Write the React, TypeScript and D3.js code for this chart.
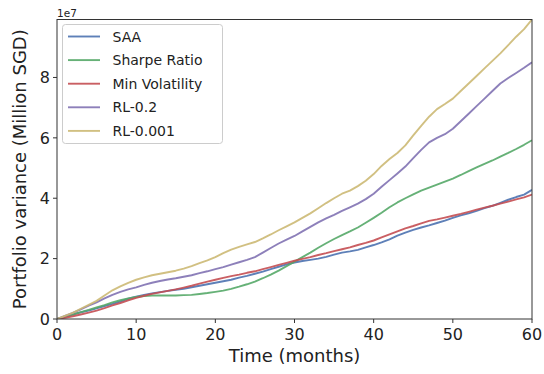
import * as d3 from "d3";

// months 0..60, values in units of 1e7 SGD
const months = d3.range(0, 61);

const saa = [0, 0.07, 0.15, 0.22, 0.28, 0.35, 0.43, 0.5, 0.58, 0.67, 0.74, 0.8, 0.85, 0.89, 0.93, 0.97, 1.0, 1.05, 1.1, 1.15, 1.2, 1.25, 1.3, 1.37, 1.43, 1.5, 1.57, 1.65, 1.73, 1.81, 1.87, 1.92, 1.96, 2.0, 2.06, 2.13, 2.2, 2.24, 2.29, 2.37, 2.45, 2.54, 2.64, 2.76, 2.86, 2.95, 3.03, 3.1, 3.18, 3.26, 3.35, 3.43, 3.5, 3.58, 3.67, 3.75, 3.85, 3.95, 4.04, 4.12, 4.28];
const sharpe = [0, 0.07, 0.15, 0.23, 0.3, 0.38, 0.46, 0.55, 0.62, 0.68, 0.73, 0.76, 0.78, 0.78, 0.78, 0.78, 0.79, 0.8, 0.83, 0.86, 0.9, 0.94, 1.0, 1.07, 1.15, 1.24, 1.35, 1.47, 1.6, 1.75, 1.9, 2.05, 2.2, 2.36, 2.51, 2.65, 2.78, 2.9, 3.03, 3.19, 3.35, 3.52, 3.7, 3.86, 4.0, 4.13, 4.25, 4.35, 4.45, 4.55, 4.65, 4.77, 4.9, 5.02, 5.14, 5.25, 5.38, 5.5, 5.63, 5.77, 5.92];
const minVol = [0, 0.04, 0.09, 0.15, 0.21, 0.28, 0.36, 0.45, 0.53, 0.62, 0.7, 0.77, 0.83, 0.88, 0.93, 0.98, 1.04, 1.1, 1.17, 1.24, 1.3, 1.36, 1.42, 1.47, 1.53, 1.58, 1.65, 1.72, 1.79, 1.86, 1.93, 1.99, 2.05, 2.12, 2.18, 2.25, 2.31, 2.37, 2.45, 2.52, 2.6, 2.7, 2.8, 2.9, 3.0, 3.08, 3.17, 3.25, 3.3, 3.36, 3.42, 3.48, 3.55, 3.62, 3.69, 3.75, 3.82, 3.89, 3.96, 4.03, 4.12];
const rl02 = [0, 0.1, 0.2, 0.32, 0.44, 0.55, 0.68, 0.8, 0.9, 0.98, 1.05, 1.13, 1.2, 1.26, 1.31, 1.35, 1.4, 1.45, 1.52, 1.58, 1.65, 1.72, 1.8, 1.88, 1.96, 2.05, 2.2, 2.35, 2.5, 2.63, 2.75, 2.9, 3.05, 3.2, 3.33, 3.45, 3.58, 3.7, 3.82, 3.97, 4.15, 4.38, 4.6, 4.82, 5.05, 5.33, 5.6, 5.85, 6.0, 6.12, 6.3, 6.55, 6.8, 7.05, 7.3, 7.55, 7.8, 7.98, 8.15, 8.32, 8.5];
const rl0001 = [0, 0.1, 0.2, 0.34, 0.47, 0.6, 0.78, 0.95, 1.08, 1.2, 1.3, 1.38, 1.45, 1.5, 1.55, 1.6, 1.67, 1.75, 1.85, 1.94, 2.05, 2.18, 2.3, 2.39, 2.47, 2.55, 2.67, 2.8, 2.94, 3.07, 3.2, 3.35, 3.5, 3.67, 3.84, 4.0, 4.15, 4.25, 4.4, 4.58, 4.8, 5.07, 5.3, 5.5, 5.75, 6.08, 6.4, 6.7, 6.95, 7.12, 7.3, 7.55, 7.8, 8.05, 8.3, 8.55, 8.8, 9.07, 9.35, 9.6, 9.92];

const seriesNames = ["SAA", "Sharpe Ratio", "Min Volatility", "RL-0.2", "RL-0.001"];
const seriesValues = [saa, sharpe, minVol, rl02, rl0001];
const colors = ["#4C72B0", "#55A868", "#C44E52", "#8172B2", "#CCB974"];

const xTicks = [0, 10, 20, 30, 40, 50, 60];
const yTicks = [0, 2, 4, 6, 8];

const W = 544;
const H = 374;
const m = { left: 57, right: 12, top: 19.5, bottom: 55 };
const font = "DejaVu Sans, sans-serif";

export default function App() {
  const x = d3.scaleLinear().domain([0, 60]).range([m.left, W - m.right]);
  const yMax = d3.max(seriesValues.flat()) as number;
  const y = d3.scaleLinear().domain([0, yMax]).range([H - m.bottom, m.top]);

  const line = d3
    .line<number>()
    .x((_, i) => x(months[i]))
    .y((d) => y(d));

  const x0 = m.left;
  const x1 = W - m.right;
  const y0 = H - m.bottom;
  const y1 = m.top;

  return (
    <svg
      width={W}
      height={H}
      style={{ position: "absolute", left: 0, top: 0, background: "#fff" }}
      fontFamily={font}
    >
      <rect x={0} y={0} width={W} height={H} fill="#fff" />

      <defs>
        <clipPath id="plot">
          <rect x={x0} y={y1} width={x1 - x0} height={y0 - y1} />
        </clipPath>
      </defs>

      <g clipPath="url(#plot)">
        {seriesValues.map((vals, i) => (
          <path
            key={seriesNames[i]}
            d={line(vals) ?? ""}
            fill="none"
            stroke={colors[i]}
            strokeOpacity={0.9}
            strokeWidth={1.9}
            strokeLinejoin="round"
          />
        ))}
      </g>

      {/* spines */}
      <rect x={x0} y={y1} width={x1 - x0} height={y0 - y1} fill="none" stroke="#333" strokeWidth={1} />

      {/* x axis */}
      {xTicks.map((t) => (
        <g key={"x" + t}>
          <line x1={x(t)} x2={x(t)} y1={y0} y2={y0 + 4} stroke="#333" />
          <text x={x(t)} y={y0 + 21} textAnchor="middle" fontSize={16} fill="#222">
            {t}
          </text>
        </g>
      ))}
      <text x={(x0 + x1) / 2} y={362} textAnchor="middle" fontSize={18} fill="#222">
        Time (months)
      </text>

      {/* y axis */}
      {yTicks.map((t) => (
        <g key={"y" + t}>
          <line x1={x0 - 4} x2={x0} y1={y(t)} y2={y(t)} stroke="#333" />
          <text x={x0 - 7} y={y(t)} dy="0.36em" textAnchor="end" fontSize={16} fill="#222">
            {t}
          </text>
        </g>
      ))}
      <text x={57} y={16.5} fontSize={10.5} fill="#222">
        1e7
      </text>
      <text
        transform={`translate(26, ${(y0 + y1) / 2}) rotate(-90)`}
        textAnchor="middle"
        fontSize={18}
        fill="#222"
      >
        Portfolio variance (Million SGD)
      </text>

      {/* legend */}
      <g>
        <rect x={62.5} y={24.5} width={160} height={119} rx={3} fill="#fff" fillOpacity={0.8} stroke="#ccc" />
        {seriesNames.map((name, i) => (
          <g key={"l" + name} transform={`translate(0, ${36.5 + i * 23.6})`}>
            <line x1={68} x2={100} y1={0} y2={0} stroke={colors[i]} strokeOpacity={0.9} strokeWidth={1.9} />
            <text x={112.5} y={0} dy="0.36em" fontSize={14} fill="#222">
              {name}
            </text>
          </g>
        ))}
      </g>
    </svg>
  );
}
